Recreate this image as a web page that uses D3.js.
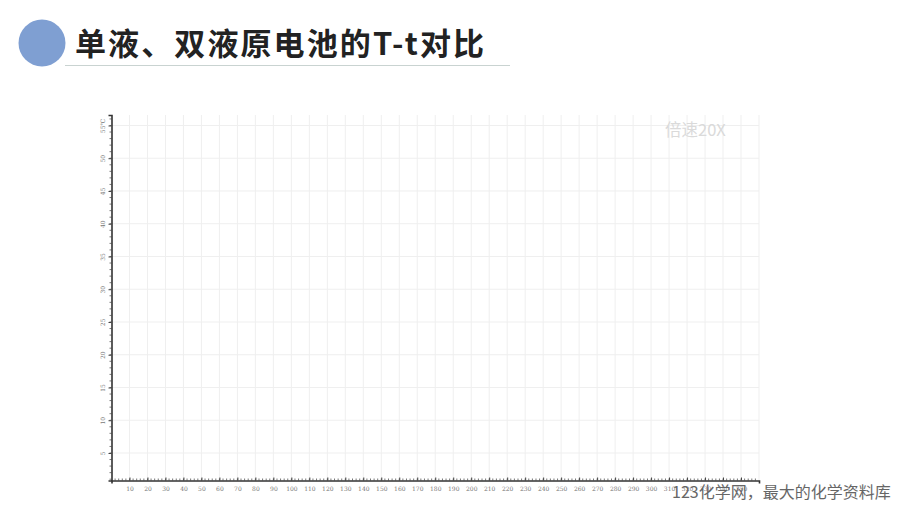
<!DOCTYPE html>
<html><head><meta charset="utf-8">
<script src="https://cdn.jsdelivr.net/npm/d3@7"></script>
<style>html,body{margin:0;padding:0;background:#fff;}svg{display:block;}</style>
</head><body>
<script>
const title = "单液、双液原电池的T-t对比";
const watermark = "倍速20X";
const footer = "123化学网，最大的化学资料库";
const yUnit = "℃";
const xDomain = [0, 360];
const yDomain = [0.8, 56.6];
const xTickValues = [10,20,30,40,50,60,70,80,90,100,110,120,130,140,150,160,170,180,190,200,210,220,230,240,250,260,270,280,290,300,310,320,330,340,350];
const yTickValues = [5,10,15,20,25,30,35,40,45,50,55];
const seriesT = []; // no data plotted in the reference

const W = 900, H = 506;
const svg = d3.select("body").append("svg").attr("width", W).attr("height", H);

// header
svg.append("circle").attr("cx", 42).attr("cy", 43).attr("r", 23.5).attr("fill", "#7f9fd2");
svg.append("line").attr("x1", 65).attr("x2", 510).attr("y1", 65.5).attr("y2", 65.5)
  .attr("stroke", "#c9d3d1").attr("stroke-width", 1.2);
svg.append("text").attr("x", 75).attr("y", 55).text(title)
  .attr("font-family", "'Noto Sans CJK SC', sans-serif").attr("font-weight", 700)
  .attr("font-size", 31).attr("letter-spacing", 2.1).attr("fill", "#222");

const x = d3.scaleLinear().domain(xDomain).range([111.5, 759]);
const y = d3.scaleLinear().domain(yDomain).range([480.5, 115]);

const g = svg.append("g");
// grid
g.append("g").selectAll("line").data(xTickValues.concat([360])).join("line")
  .attr("x1", d => x(d)).attr("x2", d => x(d)).attr("y1", y(yDomain[0])).attr("y2", y(yDomain[1]))
  .attr("stroke", "#efefef").attr("stroke-width", 1);
g.append("g").selectAll("line").data(yTickValues).join("line")
  .attr("x1", x(0)).attr("x2", x(360)).attr("y1", d => y(d)).attr("y2", d => y(d))
  .attr("stroke", "#efefef").attr("stroke-width", 1);

// watermark
svg.append("text").attr("x", 665).attr("y", 136).text(watermark)
  .attr("font-family", "'Noto Sans CJK SC', sans-serif").attr("font-size", 16.5).attr("fill", "#dadada");

// minor ticks
const xMinor = d3.range(2, 360, 2);
g.append("g").selectAll("line").data(xMinor).join("line")
  .attr("x1", d => x(d)).attr("x2", d => x(d)).attr("y1", y(yDomain[0])).attr("y2", y(yDomain[0]) - 2)
  .attr("stroke", "#555").attr("stroke-width", 0.8);
const yMinor = d3.range(1, 57, 1);
g.append("g").selectAll("line").data(yMinor).join("line")
  .attr("x1", x(0)).attr("x2", x(0) - 2).attr("y1", d => y(d)).attr("y2", d => y(d))
  .attr("stroke", "#555").attr("stroke-width", 0.8);

// axes
const xAxis = d3.axisBottom(x).tickValues(xTickValues).tickSize(3).tickPadding(3);
const gx = svg.append("g").attr("transform", `translate(0,${y(yDomain[0])})`).call(xAxis);
gx.select(".domain").attr("stroke", "#333").attr("stroke-width", 1.6);
gx.selectAll(".tick line").attr("stroke", "#444").attr("y1", -3).attr("y2", 0);
gx.selectAll(".tick text").attr("font-family", "'DejaVu Serif', serif").attr("font-size", 6).attr("fill", "#777");

const yAxis = d3.axisLeft(y).tickValues(yTickValues).tickSize(3).tickPadding(3)
  .tickFormat(d => d === 55 ? d + yUnit : d);
const gy = svg.append("g").attr("transform", `translate(${x(0)},0)`).call(yAxis);
gy.select(".domain").attr("stroke", "#333").attr("stroke-width", 1.6);
gy.selectAll(".tick line").attr("stroke", "#444");
gy.selectAll(".tick text")
  .attr("font-family", "'DejaVu Serif', serif").attr("font-size", 6).attr("fill", "#777")
  .attr("text-anchor", "middle").attr("x", 0).attr("dy", 0)
  .attr("transform", "translate(-7,0) rotate(-90)");

// footer
svg.append("text").attr("x", 672).attr("y", 498).text(footer)
  .attr("font-family", "'Noto Sans CJK SC', sans-serif").attr("font-size", 16).attr("fill", "#666");
</script>
</body></html>
